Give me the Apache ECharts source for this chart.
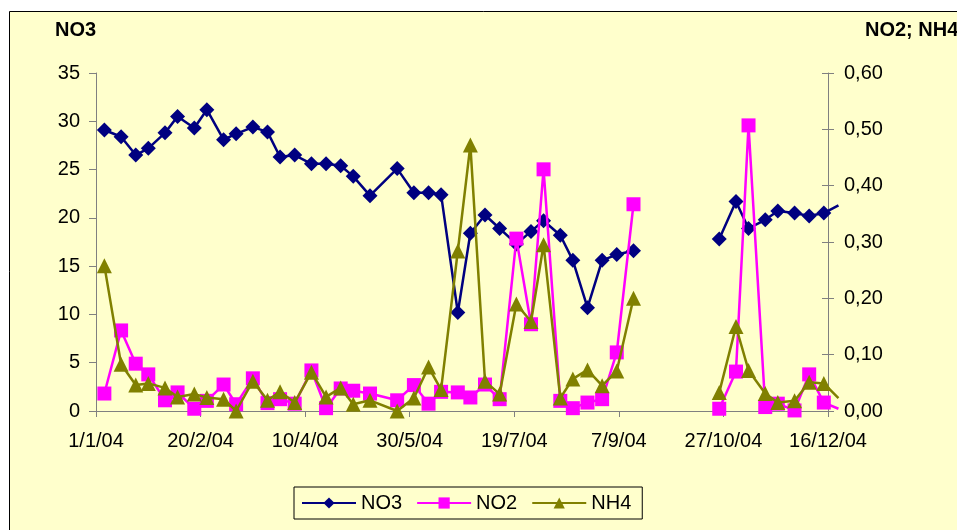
<!DOCTYPE html>
<html>
<head>
<meta charset="utf-8">
<script src="https://cdn.jsdelivr.net/npm/echarts@6/dist/echarts.min.js"></script>
<style>
html,body{margin:0;padding:0;background:#fff;}
#chart{width:957px;height:530px;}
</style>
</head>
<body>
<div id="chart"></div>
<script>
// ---- data ----
const sampleDates = [
  '2004-01-05','2004-01-13','2004-01-20','2004-01-26','2004-02-03','2004-02-09',
  '2004-02-17','2004-02-23','2004-03-02','2004-03-08','2004-03-16','2004-03-23',
  '2004-03-29','2004-04-05','2004-04-13','2004-04-20','2004-04-27','2004-05-03',
  '2004-05-11','2004-05-24','2004-06-01','2004-06-08','2004-06-14','2004-06-22',
  '2004-06-28','2004-07-05','2004-07-12','2004-07-20','2004-07-27','2004-08-02',
  '2004-08-10','2004-08-16','2004-08-23','2004-08-30','2004-09-06','2004-09-14',
  '2004-10-05',
  '2004-10-25','2004-11-02','2004-11-08','2004-11-16','2004-11-22','2004-11-30',
  '2004-12-07','2004-12-14','2004-12-21'
];
const no3 = [
  29.1, 28.4, 26.5, 27.2, 28.8, 30.5, 29.3, 31.2, 28.1, 28.7, 29.4, 28.9,
  26.3, 26.5, 25.6, 25.6, 25.4, 24.3, 22.3, 25.1, 22.6, 22.6, 22.4, 10.2,
  18.4, 20.3, 18.9, 17.3, 18.6, 19.7, 18.2, 15.6, 10.7, 15.6, 16.2, 16.6,
  null,
  17.8, 21.7, 18.9, 19.8, 20.7, 20.5, 20.2, 20.5, 21.3
];
const no2 = [
  0.031, 0.143, 0.084, 0.065, 0.019, 0.033, 0.004, 0.018, 0.047, 0.012, 0.058, 0.014,
  0.021, 0.013, 0.072, 0.005, 0.040, 0.036, 0.031, 0.019, 0.046, 0.013, 0.034, 0.033,
  0.024, 0.047, 0.021, 0.306, 0.154, 0.429, 0.018, 0.005, 0.015, 0.021, 0.104, 0.367,
  null,
  0.004, 0.070, 0.507, 0.007, 0.013, 0.001, 0.065, 0.015, 0.004
];
const nh4 = [
  0.258, 0.083, 0.046, 0.049, 0.041, 0.025, 0.030, 0.024, 0.021, 0.000, 0.053, 0.019,
  0.034, 0.015, 0.069, 0.025, 0.041, 0.012, 0.019, 0.000, 0.023, 0.078, 0.038, 0.284,
  0.472, 0.053, 0.030, 0.190, 0.159, 0.295, 0.023, 0.057, 0.073, 0.045, 0.071, 0.200,
  null,
  0.033, 0.150, 0.072, 0.031, 0.015, 0.018, 0.051, 0.049, 0.023
];
const xTickLabels = ['1/1/04','20/2/04','10/4/04','30/5/04','19/7/04','7/9/04','27/10/04','16/12/04'];
const seriesNames = ['NO3','NO2','NH4'];
const leftAxisTitle = 'NO3';
const rightAxisTitle = 'NO2; NH4';

// ---- helpers ----
const ORIGIN = Date.UTC(2004, 0, 1);
function dayOf(s) {
  const p = s.split('-').map(Number);
  return Math.round((Date.UTC(p[0], p[1] - 1, p[2]) - ORIGIN) / 86400000);
}
function build(vals) {
  return sampleDates.map(function (d, i) {
    const item = { value: [dayOf(d), vals[i]] };
    if (i === sampleDates.length - 1) item.symbol = 'none';
    return item;
  });
}

const FONT = '"Liberation Sans", Arial, sans-serif';
const AXIS_COLOR = '#808080';
const X_MAX = 350;          // visible axis end (16/12/04)
const X_MAX_DRAW = 355;     // drawing area runs a little past the axis, as in the original
const GRID_L = 96, GRID_R = 129, GRID_T = 73, GRID_B = 119;
const PX_PER_DAY = (957 - GRID_L - GRID_R) / X_MAX;

const chart = echarts.init(document.getElementById('chart'), null, { renderer: 'canvas' });
chart.setOption({
  backgroundColor: '#ffffff',
  animation: false,
  textStyle: { fontFamily: FONT },
  graphic: {
    elements: [{
      type: 'rect', z: -100, silent: true,
      shape: { x: 9.5, y: 11.5, width: 1000, height: 600 },
      style: { fill: '#FFFFCC', stroke: '#000000', lineWidth: 1 }
    }]
  },
  title: [
    { text: leftAxisTitle, left: 55, top: 20, padding: 0,
      textStyle: { fontFamily: FONT, fontSize: 20, fontWeight: 'bold', color: '#000' } },
    { text: rightAxisTitle, left: 865, top: 20, padding: 0,
      textStyle: { fontFamily: FONT, fontSize: 20, fontWeight: 'bold', color: '#000' } }
  ],
  legend: {
    data: seriesNames,
    left: 294, top: 487,
    padding: [6, 11, 6, 7],
    itemGap: 14,
    itemWidth: 54, itemHeight: 14,
    borderColor: '#000', borderWidth: 1,
    textStyle: { fontFamily: FONT, fontSize: 20, color: '#000' }
  },
  grid: [
    { left: GRID_L, right: GRID_R, top: GRID_T, bottom: GRID_B, containLabel: false, outerBoundsMode: 'none' },
    { left: GRID_L, right: GRID_R - (X_MAX_DRAW - X_MAX) * PX_PER_DAY, top: GRID_T, bottom: GRID_B,
      containLabel: false, outerBoundsMode: 'none' }
  ],
  xAxis: [
    {
      gridIndex: 0, type: 'value', min: 0, max: X_MAX, interval: 50,
      axisLine: { lineStyle: { color: AXIS_COLOR, width: 1 } },
      axisTick: { show: true, length: 6, lineStyle: { color: AXIS_COLOR } },
      splitLine: { show: false },
      axisLabel: {
        margin: 20, fontFamily: FONT, fontSize: 20, color: '#000',
        formatter: function (v) { return v % 50 === 0 ? (xTickLabels[v / 50] || '') : ''; }
      }
    },
    { gridIndex: 1, type: 'value', min: 0, max: X_MAX_DRAW, show: false }
  ],
  yAxis: [
    {
      gridIndex: 0, type: 'value', position: 'left', min: 0, max: 35, interval: 5,
      axisLine: { show: true, lineStyle: { color: AXIS_COLOR, width: 1 } },
      axisTick: { show: true, length: 7, lineStyle: { color: AXIS_COLOR } },
      splitLine: { show: false },
      axisLabel: { margin: 16, fontFamily: FONT, fontSize: 20, color: '#000' }
    },
    {
      gridIndex: 0, type: 'value', position: 'right', min: 0, max: 0.6, interval: 0.1,
      axisLine: { show: true, lineStyle: { color: AXIS_COLOR, width: 1 } },
      axisTick: { show: true, length: 6, lineStyle: { color: AXIS_COLOR } },
      splitLine: { show: false },
      axisLabel: {
        margin: 16, fontFamily: FONT, fontSize: 20, color: '#000',
        formatter: function (v) { return v.toFixed(2).replace('.', ','); }
      }
    },
    {
      gridIndex: 0, type: 'value', position: 'right', min: 0, max: 0.6, interval: 0.1,
      axisLine: { show: false },
      axisTick: { show: true, inside: true, length: 6, lineStyle: { color: AXIS_COLOR } },
      splitLine: { show: false },
      axisLabel: { show: false }
    },
    { gridIndex: 1, type: 'value', min: 0, max: 35, show: false },
    { gridIndex: 1, type: 'value', min: 0, max: 0.6, show: false }
  ],
  series: [
    {
      name: seriesNames[0], type: 'line', xAxisIndex: 1, yAxisIndex: 3, z: 2, clip: false,
      data: build(no3), connectNulls: false,
      symbol: 'diamond', symbolSize: 15,
      itemStyle: { color: '#000080' },
      lineStyle: { color: '#000080', width: 2.5 }
    },
    {
      name: seriesNames[1], type: 'line', xAxisIndex: 1, yAxisIndex: 4, z: 3, clip: false,
      data: build(no2), connectNulls: false,
      symbol: 'rect', symbolSize: 14,
      itemStyle: { color: '#FF00FF' },
      lineStyle: { color: '#FF00FF', width: 2.5 }
    },
    {
      name: seriesNames[2], type: 'line', xAxisIndex: 1, yAxisIndex: 4, z: 4, clip: false,
      data: build(nh4), connectNulls: false,
      symbol: 'triangle', symbolSize: 15,
      itemStyle: { color: '#808000' },
      lineStyle: { color: '#808000', width: 2.5 }
    }
  ]
});
</script>
</body>
</html>
